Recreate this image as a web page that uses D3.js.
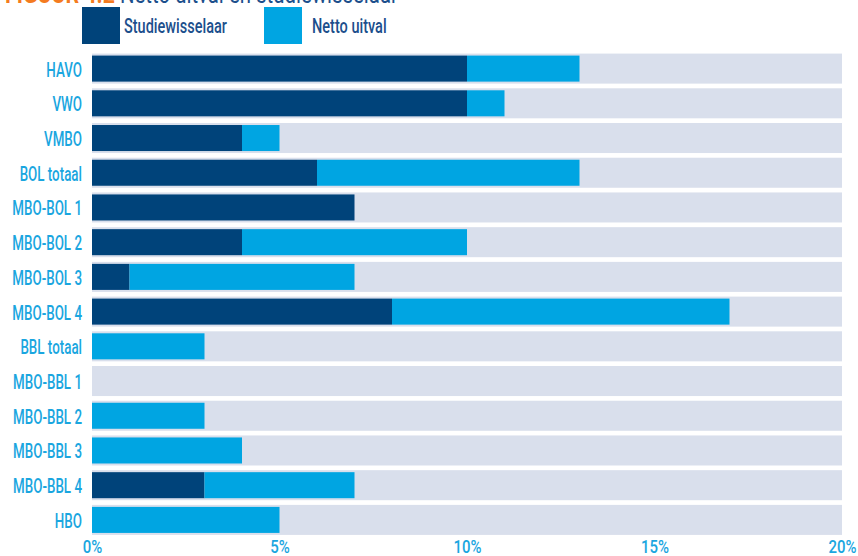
<!DOCTYPE html>
<html><head><meta charset="utf-8">
<script src="https://cdn.jsdelivr.net/npm/d3@7"></script>
<style>
html,body{margin:0;padding:0;background:#fff;}
svg{display:block;font-family:Roboto,"Liberation Sans",sans-serif;}
</style></head>
<body><svg id="c" width="858" height="556"></svg>
<script>
const categories = ["HAVO","VWO","VMBO","BOL totaal","MBO-BOL 1","MBO-BOL 2","MBO-BOL 3","MBO-BOL 4","BBL totaal","MBO-BBL 1","MBO-BBL 2","MBO-BBL 3","MBO-BBL 4","HBO"];
const studiewisselaar = [10,10,4,6,7,4,1,8,0,0,0,0,3,0];
const nettoUitval     = [3,1,1,7,0,6,6,9,3,0,3,4,4,5];
const seriesNames = ["Studiewisselaar","Netto uitval"];
const tickValues = [0,5,10,15,20];
const maxValue = 20;
const titleParts = ["FIGUUR 4.2", "Netto uitval en studiewisselaar"];

const colDark = "#00437a", colLight = "#00a5e2", colBg = "#d9dfec", colLabel = "#1aa6df", colText = "#1c4f8c";

const svg = d3.select("#c");
const x = d3.scaleLinear().domain([0, maxValue]).range([92, 842]);
const y = d3.scaleBand().domain(categories).range([51.5, 537]).paddingInner(0.135).paddingOuter(0.06);

function measure(txt, size, weight) {
  const p = svg.append("text").attr("font-size", size).attr("font-weight", weight || "normal").text(txt);
  const w = p.node().getComputedTextLength();
  p.remove();
  return w;
}
// condensed look: squeeze horizontally
const squeeze = 103 / measure("Studiewisselaar", 20, 500);
const labelSqueeze = 69 / measure("MBO-BBL 1", 20, 500);
const tickSqueeze = 28 / measure("10%", 18, 500);

// title (cut off at top, like the reference)
const t1 = 110 / measure(titleParts[0], 26, "bold");
const t2 = 278 / measure(titleParts[1], 26);
svg.append("text").attr("transform", `translate(5,2.5) scale(${t1},1)`).attr("font-size", 26)
  .attr("font-weight", "bold").attr("fill", "#f47b20").text(titleParts[0]);
svg.append("text").attr("transform", `translate(120,2.5) scale(${t2},1)`).attr("font-size", 26)
  .attr("fill", colText).text(titleParts[1]);

// legend
const legend = svg.append("g");
const legX = [82, 264];
seriesNames.forEach((n, i) => {
  legend.append("rect").attr("x", legX[i]).attr("y", 7).attr("width", 38).attr("height", 37)
    .attr("fill", i === 0 ? colDark : colLight);
  legend.append("text").attr("dy", "0.35em")
    .attr("transform", `translate(${legX[i] + (i === 0 ? 42 : 48)},26) scale(${squeeze},1)`)
    .attr("font-size", 20).attr("font-weight", 500).attr("fill", colText).text(n);
});

// background bands
svg.append("g").selectAll("rect").data(categories).join("rect")
  .attr("x", x(0)).attr("y", d => y(d)).attr("width", x(maxValue) - x(0)).attr("height", y.bandwidth())
  .attr("fill", colBg);

const inset = 2;
// dark bars
svg.append("g").selectAll("rect").data(categories).join("rect")
  .attr("x", x(0)).attr("y", d => y(d) + inset)
  .attr("width", (d, i) => x(studiewisselaar[i]) - x(0))
  .attr("height", y.bandwidth() - 2 * inset).attr("fill", colDark);
// light bars stacked
svg.append("g").selectAll("rect").data(categories).join("rect")
  .attr("x", (d, i) => x(studiewisselaar[i])).attr("y", d => y(d) + inset)
  .attr("width", (d, i) => x(studiewisselaar[i] + nettoUitval[i]) - x(studiewisselaar[i]))
  .attr("height", y.bandwidth() - 2 * inset).attr("fill", colLight);

// y axis labels
const yAxis = d3.axisLeft(y).tickSize(0).tickPadding(0);
const gy = svg.append("g").attr("transform", "translate(82,1.5)").call(yAxis);
gy.attr("font-family", null).attr("font-size", null);
gy.select(".domain").remove();
gy.selectAll("text").attr("font-size", 20).attr("font-weight", 500).attr("fill", colLabel)
  .attr("transform", `scale(${labelSqueeze},1)`);

// x axis
const xAxis = d3.axisBottom(x).tickValues(tickValues).tickFormat(d => d + "%").tickSize(0).tickPadding(0);
const gx = svg.append("g").attr("transform", "translate(0,540)").call(xAxis);
gx.attr("font-family", null).attr("font-size", null);
gx.select(".domain").remove();
gx.selectAll("text").attr("font-size", 18).attr("font-weight", 500).attr("fill", colLabel).attr("dy", "0.7em")
  .attr("transform", `scale(${tickSqueeze},1)`);
</script></body></html>
